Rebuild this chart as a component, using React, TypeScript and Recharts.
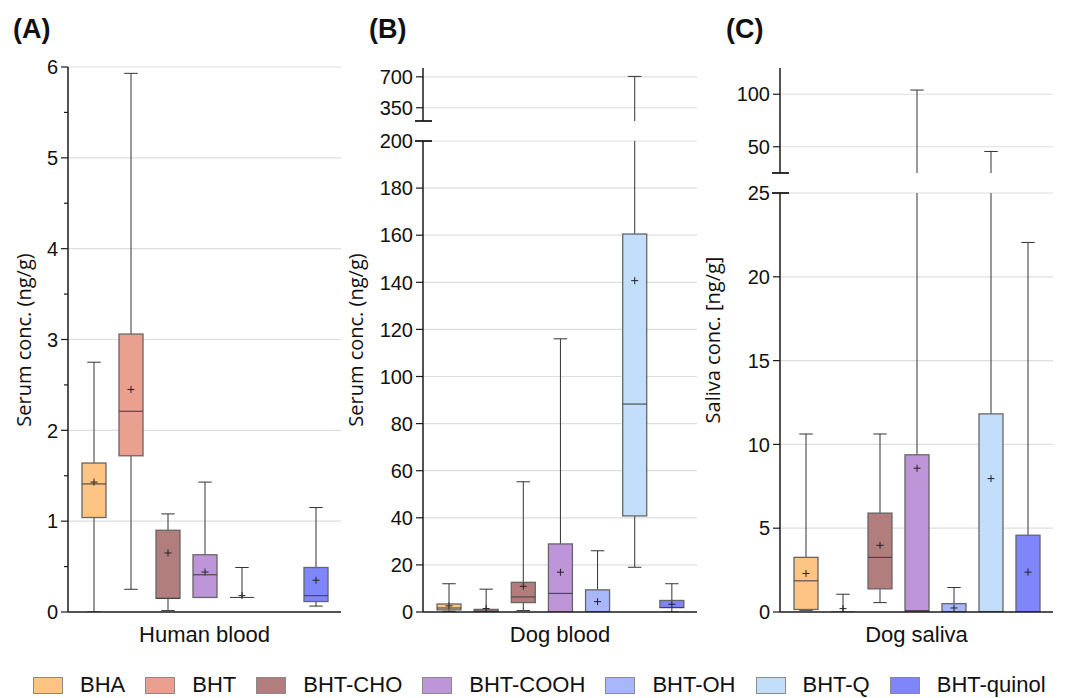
import React from 'react';
import { ComposedChart, Bar, XAxis, YAxis, CartesianGrid } from 'recharts';

// ---------- categories & colours ----------
const compounds = ['BHA', 'BHT', 'BHT-CHO', 'BHT-COOH', 'BHT-OH', 'BHT-Q', 'BHT-quinol'];
const compoundColors = ['#FDC484', '#E9A08F', '#B17E7D', '#BF95DA', '#A8B6FA', '#C2DEFB', '#7F86FA'];

// ---------- (A) Human blood, ng/g ----------
const humanMin = [0, 0.25, 0.015, 0.16, 0.16, null, 0.065];
const humanQ1 = [1.04, 1.72, 0.15, 0.16, 0.16, null, 0.115];
const humanMedian = [1.41, 2.21, 0.15, 0.41, 0.16, null, 0.18];
const humanQ3 = [1.64, 3.06, 0.9, 0.63, 0.16, null, 0.49];
const humanMax = [2.75, 5.93, 1.08, 1.43, 0.49, null, 1.15];
const humanMean = [1.43, 2.45, 0.65, 0.44, 0.18, null, 0.35];

// ---------- (B) Dog blood, ng/g ----------
const dogBloodMin = [0.3, 0, 0.6, 0, 0, 19, 0];
const dogBloodQ1 = [0.9, 0.2, 4, 0, 0, 40.8, 1.9];
const dogBloodMedian = [1.7, 0.4, 6.4, 7.9, 0, 88.3, 1.9];
const dogBloodQ3 = [3.4, 1.1, 12.6, 28.9, 9.4, 160.5, 4.9];
const dogBloodMax = [12, 9.7, 55.3, 116, 26, 705, 12];
const dogBloodMean = [2.6, 1.5, 10.9, 16.9, 4.4, 140.7, 3.3];

// ---------- (C) Dog saliva, ng/g ----------
const salivaMin = [0.1, 0, 0.56, 0, 0, 0, 0];
const salivaQ1 = [0.15, 0, 1.38, 0, 0, 0, 0];
const salivaMedian = [1.86, 0, 3.26, 0.08, 0, 0, 0];
const salivaQ3 = [3.26, 0, 5.9, 9.38, 0.5, 11.82, 4.58];
const salivaMax = [10.62, 1.06, 10.62, 104, 1.46, 45.5, 22.05];
const salivaMean = [2.3, 0.2, 3.98, 8.58, 0.24, 7.96, 2.38];

// ---------- axis tick labels ----------
const humanTicks = [0, 1, 2, 3, 4, 5, 6];
const humanMinorTicks = [0.5, 1.5, 2.5, 3.5, 4.5, 5.5];
const dogBloodUpperTicks = [350, 700];
const dogBloodLowerTicks = [0, 20, 40, 60, 80, 100, 120, 140, 160, 180, 200];
const salivaUpperTicks = [50, 100];
const salivaLowerTicks = [0, 5, 10, 15, 20, 25];

type Row = {
  name: string;
  min: number | null;
  q1: number | null;
  median: number | null;
  q3: number | null;
  max: number | null;
  mean: number | null;
};

function buildRows(mins: any[], q1s: any[], meds: any[], q3s: any[], maxs: any[], means: any[]): Row[] {
  return compounds.map((name, i) => ({
    name,
    min: mins[i],
    q1: q1s[i],
    median: meds[i],
    q3: q3s[i],
    max: maxs[i],
    mean: means[i],
  }));
}

const humanRows = buildRows(humanMin, humanQ1, humanMedian, humanQ3, humanMax, humanMean);
const dogBloodRows = buildRows(dogBloodMin, dogBloodQ1, dogBloodMedian, dogBloodQ3, dogBloodMax, dogBloodMean);
const salivaRows = buildRows(salivaMin, salivaQ1, salivaMedian, salivaQ3, salivaMax, salivaMean);

const FONT = '"Liberation Sans", Arial, Helvetica, sans-serif';
const TITLE_FONT = '"Open Sans", "Liberation Sans", Arial, sans-serif';
const AXIS_COLOR = '#1a1a1a';

type Seg = {
  top: number;
  bottom: number;
  domain: [number, number];
  labels: number[];
  minor?: number[];
  breaks?: number[];
  xLabel?: string;
};

const boxRange = (d: Row) => (d.min == null || d.max == null ? null : [d.min, d.max]);

const makeBoxShape = (domain: [number, number]) => (props: any) => {
  const { x, y, width, height, payload } = props;
  const d: Row = payload;
  if (!d || d.min == null || d.max == null || !isFinite(y) || !isFinite(height) || height <= 0) return <g />;
  const color = compoundColors[compounds.indexOf(d.name)];
  const lo = d.min as number;
  const hi = d.max as number;
  const pix = (v: number) => y + (height * (hi - v)) / (hi - lo);
  const [dLo, dHi] = domain;
  const cl = (v: number) => Math.max(dLo, Math.min(dHi, v));
  const inD = (v: number) => v >= dLo && v <= dHi;
  const cx = x + width / 2;
  const capHalf = width * 0.28;
  const q1 = d.q1 as number;
  const q3 = d.q3 as number;
  const wStroke = '#333';
  const parts: any[] = [];
  // lower whisker
  if (lo < q1) {
    const a = pix(cl(lo));
    const b = pix(cl(q1));
    if (a - b > 0.1) parts.push(<line key="lw" x1={cx} x2={cx} y1={a} y2={b} stroke={wStroke} strokeWidth={1} />);
    if (inD(lo)) parts.push(<line key="lc" x1={cx - capHalf} x2={cx + capHalf} y1={pix(lo)} y2={pix(lo)} stroke={wStroke} strokeWidth={1} />);
  }
  // upper whisker
  if (hi > q3) {
    const a = pix(cl(q3));
    const b = pix(cl(hi));
    if (a - b > 0.1) parts.push(<line key="uw" x1={cx} x2={cx} y1={a} y2={b} stroke={wStroke} strokeWidth={1} />);
    if (inD(hi)) parts.push(<line key="uc" x1={cx - capHalf} x2={cx + capHalf} y1={pix(hi)} y2={pix(hi)} stroke={wStroke} strokeWidth={1} />);
  }
  // box
  if (q3 >= dLo && q1 <= dHi) {
    const top = pix(cl(q3));
    const bot = pix(cl(q1));
    parts.push(
      <rect key="box" x={x} y={top} width={width} height={Math.max(0, bot - top)} fill={color} stroke="#666" strokeWidth={1.3} />
    );
  }
  // median
  if (d.median != null && inD(d.median)) {
    const m = pix(d.median);
    parts.push(<line key="med" x1={x} x2={x + width} y1={m} y2={m} stroke="#444" strokeWidth={1.1} />);
  }
  // mean
  if (d.mean != null && inD(d.mean)) {
    const m = pix(d.mean);
    parts.push(<line key="mh" x1={cx - 3.5} x2={cx + 3.5} y1={m} y2={m} stroke="#222" strokeWidth={1} />);
    parts.push(<line key="mv" x1={cx} x2={cx} y1={m - 3.5} y2={m + 3.5} stroke="#222" strokeWidth={1} />);
  }
  return <g>{parts}</g>;
};

const renderTick = (seg: Seg) => (p: any) => {
  const v = p.payload?.value;
  const ax = p.x;
  const ty = p.y;
  const isLabel = seg.labels.includes(v);
  const isMinor = (seg.minor || []).includes(v);
  const isBreak = (seg.breaks || []).includes(v);
  return (
    <g>
      {isBreak ? <line x1={ax - 8} x2={ax + 9} y1={ty} y2={ty} stroke={AXIS_COLOR} strokeWidth={1.8} /> : null}
      {isLabel && !isBreak ? <line x1={ax - 7} x2={ax} y1={ty} y2={ty} stroke={AXIS_COLOR} strokeWidth={1.2} /> : null}
      {isMinor ? <line x1={ax - 4} x2={ax} y1={ty} y2={ty} stroke={AXIS_COLOR} strokeWidth={1.2} /> : null}
      {isLabel ? (
        <text x={ax - 10} y={ty} dy="0.36em" textAnchor="end" fontSize={20} fontFamily={FONT} fill="#111">
          {v}
        </text>
      ) : null}
    </g>
  );
};

function Segment({ rows, left, right, seg }: { rows: Row[]; left: number; right: number; seg: Seg }) {
  const YW = 70;
  const MT = 14;
  const MR = 8;
  const XH = seg.xLabel ? 44 : 0;
  const MB = seg.xLabel ? 0 : 4;
  const plotH = seg.bottom - seg.top;
  const width = YW + (right - left) + MR;
  const height = MT + plotH + XH + MB;
  const allTicks = Array.from(new Set([...seg.labels, ...(seg.minor || []), ...(seg.breaks || [])])).sort((a, b) => a - b);
  return (
    <div style={{ position: 'absolute', left: left - YW, top: seg.top - MT }}>
      <ComposedChart width={width} height={height} data={rows} margin={{ top: MT, right: MR, bottom: MB, left: 0 }}>
        <CartesianGrid vertical={false} horizontalValues={seg.labels.filter((v) => v !== 0)} stroke="#dedede" strokeWidth={1.2} />
        <XAxis
          dataKey="name"
          type="category"
          hide={!seg.xLabel}
          tick={false}
          tickLine={false}
          axisLine={{ stroke: AXIS_COLOR, strokeWidth: 1.5 }}
          height={XH || 1}
          padding={{ left: 7, right: 7 }}
          label={seg.xLabel ? { value: seg.xLabel, position: 'insideTop', offset: 14, fontSize: 22, fill: '#111', fontFamily: FONT } : undefined}
        />
        <YAxis
          type="number"
          domain={seg.domain}
          allowDataOverflow
          ticks={allTicks}
          interval={0}
          width={YW}
          tickSize={0}
          tickMargin={0}
          tickLine={false}
          axisLine={{ stroke: AXIS_COLOR, strokeWidth: 1.5 }}
          tick={renderTick(seg)}
        />
        <Bar dataKey={boxRange as any} barSize={24} isAnimationActive={false} shape={makeBoxShape(seg.domain)} />
      </ComposedChart>
    </div>
  );
}

const segA: Seg[] = [
  { top: 67, bottom: 612, domain: [0, 6], labels: humanTicks, minor: humanMinorTicks, xLabel: 'Human blood' },
];
const segB: Seg[] = [
  { top: 68, bottom: 121, domain: [200, 800], labels: dogBloodUpperTicks, breaks: [200] },
  { top: 141, bottom: 612, domain: [0, 200], labels: dogBloodLowerTicks, breaks: [200], xLabel: 'Dog blood' },
];
const segC: Seg[] = [
  { top: 68, bottom: 173, domain: [25, 125], labels: salivaUpperTicks, breaks: [25] },
  { top: 193, bottom: 612, domain: [0, 25], labels: salivaLowerTicks, breaks: [25], xLabel: 'Dog saliva' },
];

function Legend() {
  return (
    <div
      style={{
        position: 'absolute',
        left: 33,
        top: 675,
        display: 'flex',
        alignItems: 'center',
        fontFamily: FONT,
        fontSize: 22,
        color: '#111',
        whiteSpace: 'nowrap',
        lineHeight: '20px',
        height: 20,
      }}
    >
      {compounds.map((c, i) => (
        <div key={c} style={{ display: 'flex', alignItems: 'center', marginRight: i < compounds.length - 1 ? 20 : 0 }}>
          <span
            style={{
              display: 'inline-block',
              width: 28,
              height: 15,
              background: compoundColors[i],
              border: '1px solid #8a8a8a',
              marginRight: 17,
            }}
          />
          <span>{c}</span>
        </div>
      ))}
    </div>
  );
}

export default function App() {
  return (
    <div style={{ position: 'absolute', left: 0, top: 0, width: 1067, height: 698, background: '#fff', overflow: 'hidden' }}>
      {segA.map((s, i) => (
        <Segment key={'a' + i} rows={humanRows} left={68} right={341} seg={s} />
      ))}
      {segB.map((s, i) => (
        <Segment key={'b' + i} rows={dogBloodRows} left={423} right={697} seg={s} />
      ))}
      {segC.map((s, i) => (
        <Segment key={'c' + i} rows={salivaRows} left={780} right={1053} seg={s} />
      ))}
      <svg width={1067} height={698} style={{ position: 'absolute', left: 0, top: 0, pointerEvents: 'none' }}>
        <text x={13} y={38} fontSize={27} fontWeight="bold" fontFamily={FONT} fill="#111">(A)</text>
        <text x={369} y={38} fontSize={27} fontWeight="bold" fontFamily={FONT} fill="#111">(B)</text>
        <text x={726} y={38} fontSize={27} fontWeight="bold" fontFamily={FONT} fill="#111">(C)</text>
        <text transform="translate(23,340) rotate(-90)" textAnchor="middle" dominantBaseline="central" fontSize={20} fontFamily={TITLE_FONT} fill="#111">
          Serum conc. (ng/g)
        </text>
        <text transform="translate(355,340) rotate(-90)" textAnchor="middle" dominantBaseline="central" fontSize={20} fontFamily={TITLE_FONT} fill="#111">
          Serum conc. (ng/g)
        </text>
        <text transform="translate(712,340) rotate(-90)" textAnchor="middle" dominantBaseline="central" fontSize={20} fontFamily={TITLE_FONT} fill="#111">
          Saliva conc. [ng/g]
        </text>
      </svg>
      <Legend />
    </div>
  );
}
